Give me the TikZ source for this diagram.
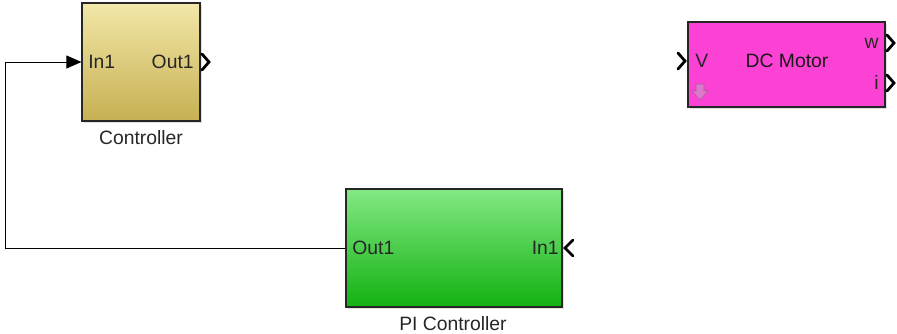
\documentclass[tikz,border=0pt]{standalone}
\usepackage{fontspec}
\setmainfont{Liberation Sans}
\usetikzlibrary{shadows,arrows.meta}

\definecolor{ctrltop}{RGB}{242,231,168}
\definecolor{ctrlbot}{RGB}{198,176,82}
\definecolor{pitop}{RGB}{132,232,132}
\definecolor{pibot}{RGB}{18,178,18}
\definecolor{motorfill}{RGB}{252,66,212}
\definecolor{iconfill}{RGB}{222,120,205}

\begin{document}
\begin{tikzpicture}[x=0.02cm,y=-0.02cm,
  font=\fontsize{11}{13}\selectfont,
  block/.style={draw=black!85, line width=0.7pt, inner sep=0pt,
    drop shadow={opacity=0.25, shadow xshift=1.2pt, shadow yshift=-1.2pt}},
  port/.style={inner sep=0pt, text=black!85},
  chev/.style={line width=1.6pt, line cap=round, line join=miter},
  link/.style={line width=0.5pt, -{Triangle[length=0.3cm,width=0.26cm]}}]
  \useasboundingbox (0,0) rectangle (897,334);

  % Controller subsystem
  \node[block, top color=ctrltop, bottom color=ctrlbot,
    minimum width=2.36cm, minimum height=2.36cm] (ctrl) at (141,62) {};
  \node[port, anchor=west] (ctrlin) at (88,62) {In1};
  \node[port, anchor=east] (ctrlout) at (194,62) {Out1};
  \draw[chev] (202,54) -- (209,62) -- (202,70);
  \node[text=black!85] (ctrllabel) at (141,138) {Controller};

  % DC motor
  \node[block, fill=motorfill,
    minimum width=3.94cm, minimum height=1.7cm] (motor) at (786.5,64.5) {};
  \node[port, text=black!90] (motorname) at (787,61) {DC Motor};
  \node[port, anchor=west] (motorv) at (695,61) {V};
  \node[port, anchor=east] (motorw) at (879,43) {w};
  \node[port, anchor=east] (motori) at (879,83) {i};
  \draw[chev] (678,53) -- (685,61) -- (678,69);
  \draw[chev] (887,35) -- (894,43) -- (887,51);
  \draw[chev] (887,75) -- (894,83) -- (887,91);
  \filldraw[fill=iconfill, draw=iconfill!75!black, line width=0.3pt]
    (696,84) -- (704,84) -- (704,91) -- (708,91) -- (700,100)
    -- (692,91) -- (696,91) -- cycle;

  % PI controller
  \node[block, top color=pitop, bottom color=pibot,
    minimum width=4.32cm, minimum height=2.36cm] (pi) at (454,248) {};
  \node[port, anchor=west] (piout) at (352,248) {Out1};
  \node[port, anchor=east] (piin) at (559,248) {In1};
  \draw[chev] (573,240) -- (565,248) -- (573,256);
  \node[text=black!85] (pilabel) at (453,324) {PI Controller};

  % feedback line
  \coordinate (bend) at (5,248);
  \draw[link] (pi.west) -- (bend) |- (ctrl.west);
\end{tikzpicture}
\end{document}
